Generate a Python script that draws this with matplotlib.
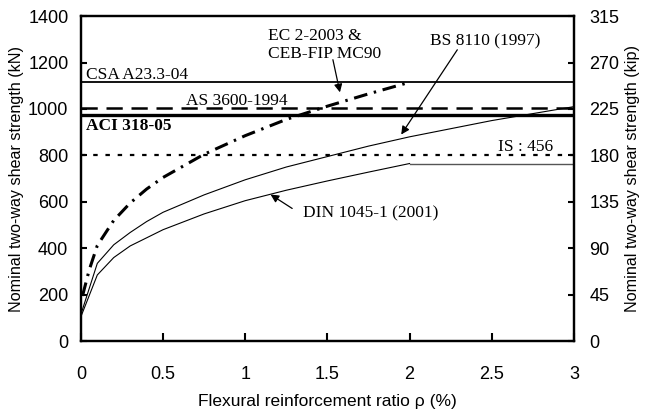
#!/usr/bin/env python3

import matplotlib
matplotlib.use("Agg")
import matplotlib.pyplot as plt

# flexural reinforcement ratio (%)
rho = [0, 0.1, 0.2, 0.3, 0.4, 0.5, 0.75, 1.0, 1.25, 1.5, 1.75, 2.0, 2.25, 2.5, 2.75, 3.0]
bs8110 = [115, 335, 415, 468, 515, 555, 630, 695, 750, 795, 840, 880, 915, 950, 980, 1010]
din1045 = [105, 285, 360, 410, 445, 480, 548, 605, 650, 690, 728, 765, 765, 765, 765, 765]

rho_ec2 = [0.01, 0.05, 0.1, 0.2, 0.3, 0.4, 0.5, 0.75, 1.0, 1.25, 1.5, 1.75, 2.0]
ec2 = [195, 305, 412, 520, 595, 655, 705, 805, 885, 955, 1012, 1065, 1115]

# code limits independent of rho (kN)
csa = 1117
as3600 = 1003
aci = 975
is456 = 800

KN_PER_KIP = 1400 / 315.0

serif = "Liberation Serif"
sans = "Liberation Sans"


def main():
    plt.rcParams['font.family'] = sans
    fig = plt.figure(figsize=(6.47, 4.13), dpi=100)
    ax = fig.add_axes([0.125, 0.174, 0.762, 0.787])

    ax.axhline(csa, color='black', lw=1.3)
    ax.axhline(as3600, color='black', lw=1.8, dashes=(6.5, 3.5))
    ax.axhline(aci, color='black', lw=2.4)
    ax.axhline(is456, color='black', lw=1.6, dashes=(2, 3.5))

    ax.plot(rho, bs8110, color='black', lw=0.8)
    ax.plot(rho[:12], din1045[:12], color='black', lw=0.8)
    ax.plot(rho[11:], din1045[11:], color='#555555', lw=1.0)
    ax.plot(rho_ec2, ec2, color='black', lw=2.2, dashes=(4.5, 2.2, 0.8, 2.2))

    ax.set_xlim(0, 3)
    ax.set_ylim(0, 1400)
    ax.set_xticks([0, 0.5, 1, 1.5, 2, 2.5, 3])
    ax.set_xticklabels(['0', '0.5', '1', '1.5', '2', '2.5', '3'])
    ax.set_yticks(range(0, 1401, 200))
    ax.tick_params(axis='x', direction='in', length=6, width=1.5, pad=18, labelsize=13)
    ax.tick_params(axis='y', direction='in', length=4, width=1.5, pad=9, labelsize=13)
    for s in ax.spines.values():
        s.set_linewidth(1.6)

    ax.set_xlabel('Flexural reinforcement ratio \u03c1 (%)', fontsize=12.5, labelpad=8)
    ax.set_ylabel('Nominal two-way shear strength (kN)', fontsize=11.6, labelpad=3)

    ax2 = ax.twinx()
    ax2.set_ylim(0, 1400 / KN_PER_KIP)
    ax2.set_yticks(range(0, 316, 45))
    ax2.tick_params(axis='y', direction='in', length=4, width=1.5, pad=11, labelsize=13)
    ax2.set_ylabel('Nominal two-way shear strength (kip)', fontsize=11.6, labelpad=4)
    for s in ax2.spines.values():
        s.set_linewidth(1.6)

    fs = 12.5
    ax.text(0.03, csa + 14, 'CSA A23.3-04', family=serif, fontsize=fs)
    ax.text(0.64, as3600 + 14, 'AS 3600-1994', family=serif, fontsize=fs)
    ax.text(0.03, 925, 'ACI 318-05', family=serif, fontsize=fs, weight='bold', va='center')
    ax.text(2.54, 836, 'IS : 456', family=serif, fontsize=fs, va='center')

    arrow = dict(arrowstyle='-|>', color='black', lw=0.9, mutation_scale=12)
    ax.text(1.14, 1275, 'EC 2-2003 &\nCEB-FIP MC90', family=serif, fontsize=fs,
            ha='left', va='center', linespacing=1.15)
    ax.annotate('', xy=(1.58, 1060), xytext=(1.53, 1224), arrowprops=arrow)
    ax.text(2.46, 1289, 'BS 8110 (1997)', family=serif, fontsize=fs,
            ha='center', va='center')
    ax.annotate('', xy=(1.94, 880), xytext=(2.30, 1265), arrowprops=arrow)
    ax.text(1.35, 552, 'DIN 1045-1 (2001)', family=serif, fontsize=fs,
            ha='left', va='center')
    ax.annotate('', xy=(1.14, 638), xytext=(1.30, 565), arrowprops=arrow)

    plt.savefig('out.png', dpi=100)


if __name__ == "__main__":
    main()
